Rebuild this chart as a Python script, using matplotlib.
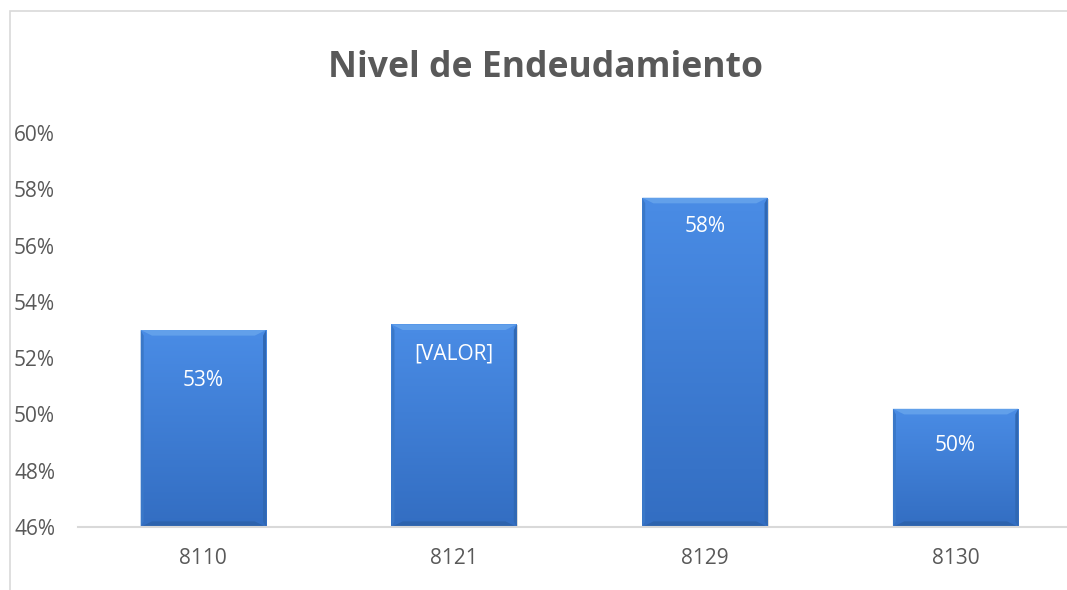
import numpy as np
import matplotlib.pyplot as plt
from matplotlib.patches import Rectangle, Polygon
from matplotlib.ticker import PercentFormatter

categories = ['8110', '8121', '8129', '8130']
values = [53.0, 53.2, 57.7, 50.2]
labels = ['53%', '[VALOR]', '58%', '50%']
label_drop = [50, 30, 29, 37]   # px below bar top (as placed in the original)

plt.rcParams['font.family'] = ['Open Sans', 'DejaVu Sans']
grey = '#595959'

fig = plt.figure(figsize=(10.67, 5.9), dpi=100)
ax = fig.add_axes([78 / 1067, 63 / 590, 1003 / 1067, 394 / 590])

# outer chart border (cropped on the right and bottom)
fig.patches.append(Rectangle((10 / 1067, -0.05), 1.1, 1 - 11 / 590 + 0.05,
                             transform=fig.transFigure, fill=False,
                             ec='#d9d9d9', lw=1.2, zorder=0))

x = np.arange(len(categories))
w = 0.5
ymin = 46
grad = np.linspace(0, 1, 256).reshape(-1, 1)
top_c = np.array([0.29, 0.55, 0.90])
bot_c = np.array([0.20, 0.43, 0.76])

bars = ax.bar(x, [v - ymin for v in values], w, bottom=ymin,
              color='#3b7dd8', edgecolor='none', zorder=2)
for b in bars:
    x0, y0 = b.get_x(), b.get_y()
    bw, bh = b.get_width(), b.get_height()
    img = (grad * top_c + (1 - grad) * bot_c).reshape(256, 1, 3)
    im = ax.imshow(img, extent=[x0, x0 + bw, y0, y0 + bh], origin='lower',
                   aspect='auto', zorder=3)
    im.set_clip_path(b)
    # bevel: light top, darker bottom/sides
    dx, dy = 0.045, 0.2
    ax.add_patch(Polygon([[x0, y0 + bh], [x0 + bw, y0 + bh],
                          [x0 + bw - dx, y0 + bh - dy], [x0 + dx, y0 + bh - dy]],
                         closed=True, fc='#62a0ea', ec='none', zorder=4))
    ax.add_patch(Polygon([[x0, y0], [x0 + bw, y0],
                          [x0 + bw - dx, y0 + dy], [x0 + dx, y0 + dy]],
                         closed=True, fc='#2d63ad', ec='none', zorder=4))
    ax.add_patch(Polygon([[x0 + bw, y0], [x0 + bw, y0 + bh],
                          [x0 + bw - 0.012, y0 + bh - dy], [x0 + bw - 0.012, y0 + dy]],
                         closed=True, fc='#3068b3', ec='none', zorder=4))
    ax.add_patch(Polygon([[x0, y0], [x0, y0 + bh],
                          [x0 + 0.012, y0 + bh - dy], [x0 + 0.012, y0 + dy]],
                         closed=True, fc='#3a78c8', ec='none', zorder=4))
    ax.add_patch(Rectangle((x0 + 0.004, y0), bw, bh - 0.03, fc='#b8b8b8',
                           ec='none', alpha=0.5, zorder=1))

for i, b in enumerate(bars):
    ax.annotate(labels[i], (b.get_x() + b.get_width() / 2, values[i]),
                xytext=(0, -label_drop[i]), textcoords='offset pixels',
                ha='center', va='center', color='white', fontsize=15, zorder=5)

ax.set_xlim(-0.5, len(categories) - 0.5)
ax.set_ylim(46, 60)
ax.set_yticks(np.arange(46, 61, 2))
ax.yaxis.set_major_formatter(PercentFormatter(decimals=0))
ax.set_xticks(x)
ax.set_xticklabels(categories)
ax.tick_params(axis='both', length=0, labelsize=15, colors=grey)
ax.tick_params(axis='y', pad=16.5)
ax.tick_params(axis='x', pad=15)
for s in ['top', 'right', 'left']:
    ax.spines[s].set_visible(False)
ax.spines['bottom'].set_color('#d9d9d9')
ax.spines['bottom'].set_linewidth(1.5)
ax.spines['bottom'].set_zorder(6)

fig.text(545 / 1067, 1 - 68 / 590, 'Nivel de Endeudamiento', ha='center',
         va='center', fontsize=25.6, fontweight='bold', color=grey)

fig.savefig('out.png', dpi=100)
